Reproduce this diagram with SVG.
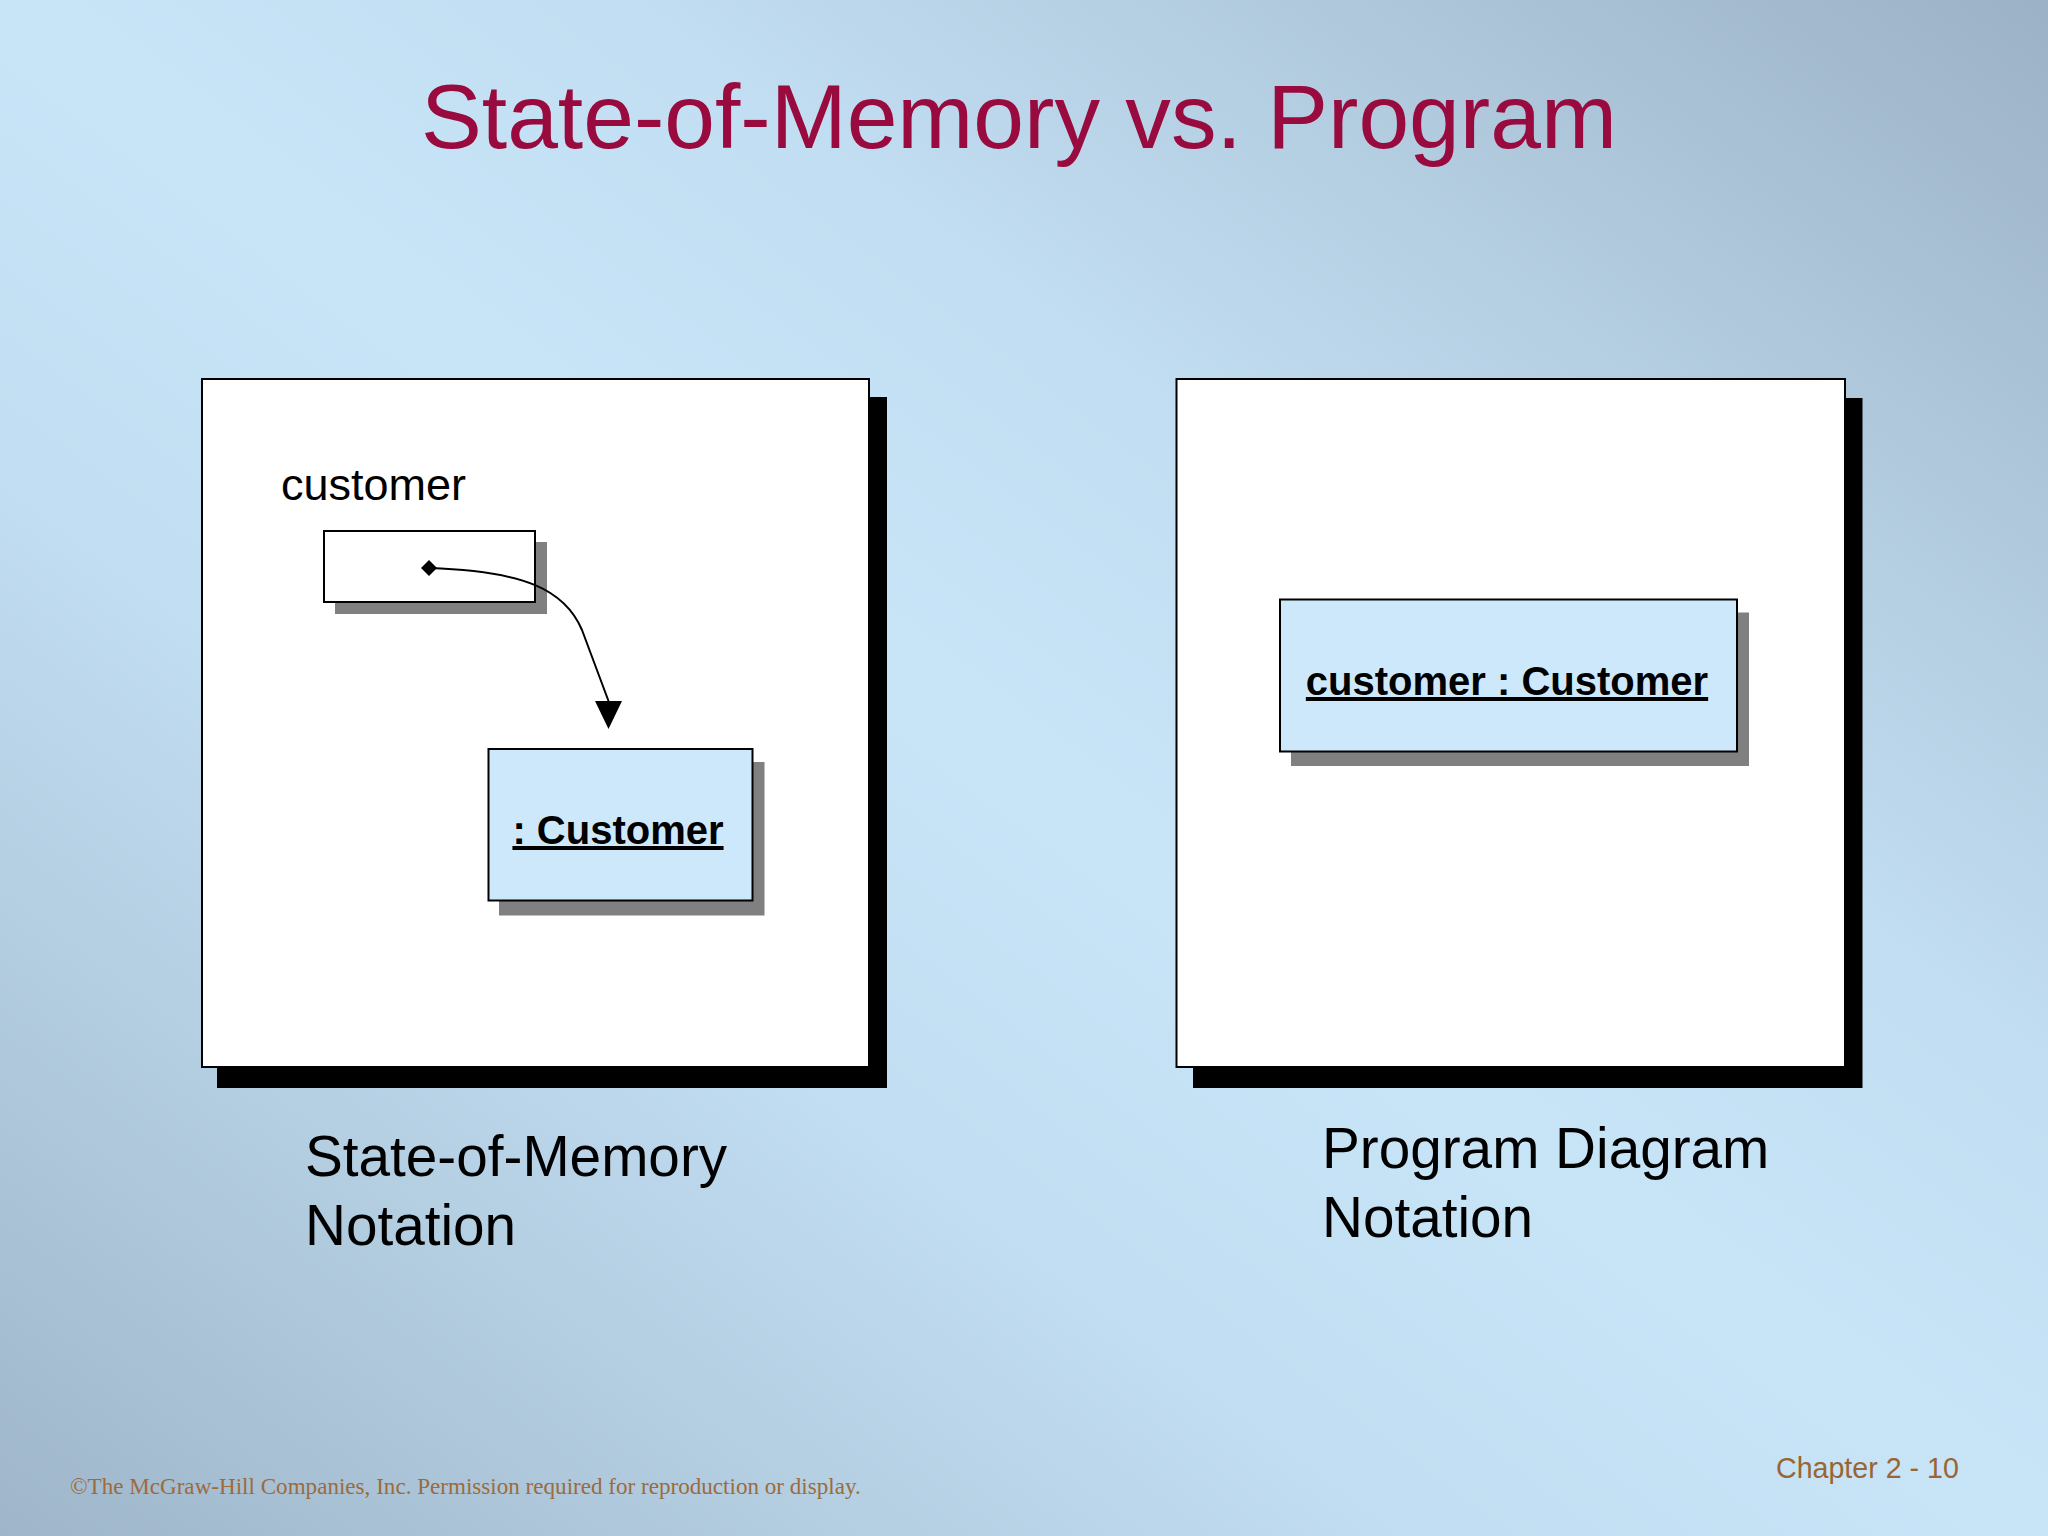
<svg xmlns="http://www.w3.org/2000/svg" width="2048" height="1536" viewBox="0 0 2048 1536">
  <defs>
    <linearGradient id="bg" x1="0" y1="1" x2="1" y2="0">
      <stop offset="0" stop-color="#9fb6ca"/>
      <stop offset="0.35" stop-color="#c2def2"/>
      <stop offset="0.5" stop-color="#c8e4f7"/>
      <stop offset="0.65" stop-color="#c2def2"/>
      <stop offset="1" stop-color="#9cb2c6"/>
    </linearGradient>
    <marker id="arrow" viewBox="0 0 28 27" refX="0" refY="13.5" markerWidth="28" markerHeight="27" markerUnits="userSpaceOnUse" orient="90">
      <path d="M0,0 L28,13.5 L0,27 Z" fill="#000"/>
    </marker>
    <marker id="diamond" viewBox="0 0 16 16" refX="8" refY="8" markerWidth="16" markerHeight="16" markerUnits="userSpaceOnUse" orient="0">
      <path d="M8,0 L16,8 L8,16 L0,8 Z" fill="#000"/>
    </marker>
    <style>
      .panel { fill: #ffffff; stroke: #000000; stroke-width: 2; }
      .panel-shadow { fill: #000000; }
      .obj { fill: #cde8fa; stroke: #000000; stroke-width: 2; }
      .ref { fill: #ffffff; stroke: #000000; stroke-width: 2; }
      .shadow { fill: #808080; }
      .title { font-family: "Liberation Sans", Arial, sans-serif; font-size: 91.2px; fill: #990a3f; }
      .label { font-family: "Liberation Sans", Arial, sans-serif; font-size: 56.7px; fill: #000000; }
      .var { font-family: "Liberation Sans", Arial, sans-serif; font-size: 45px; fill: #000000; }
      .objtext { font-family: "Liberation Sans", Arial, sans-serif; font-size: 40px; font-weight: bold; fill: #000000; text-decoration: underline; text-anchor: middle; }
      .footer { font-family: "Liberation Serif", "Times New Roman", serif; font-size: 23.1px; fill: #9c6b3c; }
      .chapter { font-family: "Liberation Sans", Arial, sans-serif; font-size: 28.6px; fill: #996633; }
      .conn { fill: none; stroke: #000000; stroke-width: 2; }
    </style>
  </defs>

  <rect x="0" y="0" width="2048" height="1536" fill="url(#bg)"/>

  <text class="title" x="421" y="148">State-of-Memory vs. Program</text>

  <g id="panel-memory">
    <rect class="panel-shadow" x="217" y="397" width="670" height="691"/>
    <rect class="panel" x="202" y="379" width="667" height="688"/>
  </g>

  <g id="panel-program">
    <rect class="panel-shadow" x="1193" y="398" width="669.5" height="690"/>
    <rect class="panel" x="1176.5" y="379" width="668.5" height="688"/>
  </g>

  <g id="node-customer-ref">
    <text class="var" x="281" y="500">customer</text>
    <rect class="shadow" x="335" y="542" width="212" height="72"/>
    <rect class="ref" x="324" y="531" width="211" height="71"/>
  </g>

  <g id="node-customer-object">
    <rect class="shadow" x="499" y="762" width="265.5" height="153.5"/>
    <rect class="obj" x="488.5" y="749" width="264" height="151.5"/>
    <text class="objtext" x="618" y="844">: Customer</text>
  </g>

  <g id="node-customer-program">
    <rect class="shadow" x="1291" y="612.5" width="458" height="153.5"/>
    <rect class="obj" x="1280" y="599.5" width="457" height="152"/>
    <text class="objtext" x="1507" y="695">customer : Customer</text>
  </g>

  <g id="connectors">
    <path class="conn" d="M429,568 C525,571 565,590 582,630 L608.5,701" marker-start="url(#diamond)" marker-end="url(#arrow)"/>
  </g>

  <g id="captions">
    <text class="label" x="305" y="1176">State-of-Memory</text>
    <text class="label" x="305" y="1245">Notation</text>
    <text class="label" x="1322" y="1168">Program Diagram</text>
    <text class="label" x="1322" y="1237">Notation</text>
  </g>

  <text class="footer" x="70" y="1494">©The McGraw-Hill Companies, Inc. Permission required for reproduction or display.</text>
  <text class="chapter" x="1776" y="1478">Chapter 2 - 10</text>
</svg>
